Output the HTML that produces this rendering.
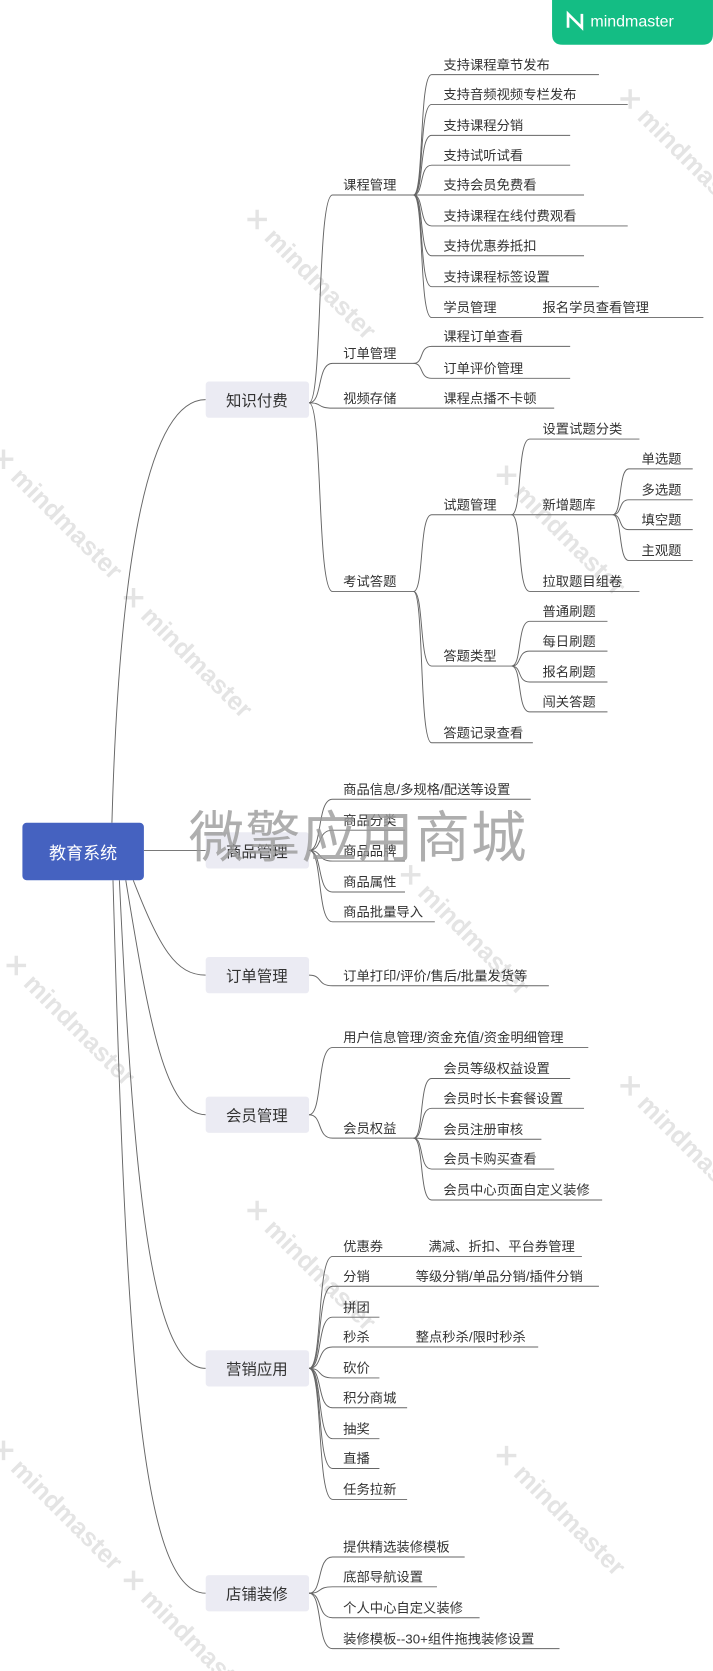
<!DOCTYPE html>
<html><head><meta charset="utf-8"><style>
html,body{margin:0;padding:0;background:#fff;}
svg{display:block;}
text{font-family:"Liberation Sans","Noto Sans CJK SC",sans-serif;font-size:12.5px;fill:#333;}
.e{fill:none;stroke:#666;stroke-width:0.9;}
.wm{fill:#e4e4e4;font-size:24px;font-weight:bold;}
</style></head><body>
<svg width="713" height="1671" viewBox="0 0 669 1568" xmlns="http://www.w3.org/2000/svg">
<!-- faint watermarks -->
<g>
<text class="wm" transform="translate(228,205) rotate(45)">✕ mindmaster</text>
<text class="wm" transform="translate(578,92) rotate(45)">✕ mindmaster</text>
<text class="wm" transform="translate(-10,430) rotate(45)">✕ mindmaster</text>
<text class="wm" transform="translate(112,560) rotate(45)">✕ mindmaster</text>
<text class="wm" transform="translate(462,445) rotate(45)">✕ mindmaster</text>
<text class="wm" transform="translate(372,820) rotate(45)">✕ mindmaster</text>
<text class="wm" transform="translate(2,905) rotate(45)">✕ mindmaster</text>
<text class="wm" transform="translate(578,1018) rotate(45)">✕ mindmaster</text>
<text class="wm" transform="translate(228,1135) rotate(45)">✕ mindmaster</text>
<text class="wm" transform="translate(462,1365) rotate(45)">✕ mindmaster</text>
<text class="wm" transform="translate(112,1482) rotate(45)">✕ mindmaster</text>
<text class="wm" transform="translate(-10,1360) rotate(45)">✕ mindmaster</text>
</g>
<!-- logo -->
<path d="M518 0 H669 V32 Q669 42 659 42 H528 Q518 42 518 32 Z" fill="#14bd84"/>
<path d="M533 26 V13 L546 26 V13" fill="none" stroke="#fff" stroke-width="2.5"/>
<text x="554" y="25" style="fill:#fff;font-size:15px">mindmaster</text>

<!-- root edges -->
<g class="e">
<path class="e" d="M105 772 C112 520 140 375 193 375"/>
<path class="e" d="M135 798 H193"/>
<path class="e" d="M125 826 C150 890 165 915 193 915"/>
<path class="e" d="M118 826 C140 960 155 1046 193 1046"/>
<path class="e" d="M112 826 C125 1100 140 1284 193 1284"/>
<path class="e" d="M106 826 C118 1250 130 1495 193 1495"/>
</g>
<!-- root -->
<rect x="21" y="772" width="114" height="54" rx="4" fill="#4562c0"/>
<text x="78" y="806" text-anchor="middle" style="fill:#fff;font-size:16px">教育系统</text>
<!-- L1 boxes -->
<g>
<rect x="193" y="358" width="97" height="34" rx="3" fill="#ebebf3"/><text x="241" y="381" text-anchor="middle" style="font-size:14.5px">知识付费</text>
<rect x="193" y="781" width="97" height="34" rx="3" fill="#ebebf3"/><text x="241" y="804" text-anchor="middle" style="font-size:14.5px">商品管理</text>
<rect x="193" y="898" width="97" height="34" rx="3" fill="#ebebf3"/><text x="241" y="921" text-anchor="middle" style="font-size:14.5px">订单管理</text>
<rect x="193" y="1029" width="97" height="34" rx="3" fill="#ebebf3"/><text x="241" y="1052" text-anchor="middle" style="font-size:14.5px">会员管理</text>
<rect x="193" y="1267" width="97" height="34" rx="3" fill="#ebebf3"/><text x="241" y="1290" text-anchor="middle" style="font-size:14.5px">营销应用</text>
<rect x="193" y="1478" width="97" height="34" rx="3" fill="#ebebf3"/><text x="241" y="1501" text-anchor="middle" style="font-size:14.5px">店铺装修</text>
</g>

<!-- edges -->
<g class="e">
<path d="M290 378 C303 378 297 183 312 183 H388"/>
<path d="M290 378 C303 378 297 341 312 341 H388"/>
<path d="M290 378 C303 378 297 383 312 383 H520"/>
<path d="M290 378 C303 378 297 555 312 555 H388"/>
<path d="M388 183 C398 183 393 70 405 70 H562"/>
<path d="M388 183 C398 183 393 98 405 98 H589"/>
<path d="M388 183 C398 183 393 127 405 127 H535"/>
<path d="M388 183 C398 183 393 155 405 155 H535"/>
<path d="M388 183 H548"/>
<path d="M388 183 C398 183 393 212 405 212 H589"/>
<path d="M388 183 C398 183 393 240 405 240 H548"/>
<path d="M388 183 C398 183 393 269 405 269 H562"/>
<path d="M388 183 C398 183 393 298 405 298 H660"/>
<path d="M388 341 C398 341 393 325 405 325 H535"/>
<path d="M388 341 C398 341 393 355 405 355 H535"/>
<path d="M388 555 C398 555 393 483 405 483 H480"/>
<path d="M388 555 C398 555 393 625 405 625 H480"/>
<path d="M388 555 C398 555 393 697 405 697 H500"/>
<path d="M480 483 C490 483 485 412 497 412 H600"/>
<path d="M480 483 H575"/>
<path d="M480 483 C490 483 485 555 497 555 H600"/>
<path d="M575 483 C584 483 580 440 590 440 H650"/>
<path d="M575 483 C584 483 580 469 590 469 H650"/>
<path d="M575 483 C584 483 580 497 590 497 H650"/>
<path d="M575 483 C584 483 580 526 590 526 H650"/>
<path d="M480 625 C490 625 485 583 497 583 H570"/>
<path d="M480 625 C490 625 485 611 497 611 H570"/>
<path d="M480 625 C490 625 485 640 497 640 H570"/>
<path d="M480 625 C490 625 485 668 497 668 H570"/>
<path d="M290 798 C303 798 297 750 312 750 H498"/>
<path d="M290 798 C303 798 297 779 312 779 H380"/>
<path d="M290 798 C303 798 297 808 312 808 H380"/>
<path d="M290 798 C303 798 297 837 312 837 H380"/>
<path d="M290 798 C303 798 297 865 312 865 H408"/>
<path d="M290 915 C303 915 297 925 312 925 H515"/>
<path d="M290 1046 C303 1046 297 983 312 983 H552"/>
<path d="M290 1046 C303 1046 297 1068 312 1068 H388"/>
<path d="M388 1068 C398 1068 393 1012 405 1012 H535"/>
<path d="M388 1068 C398 1068 393 1040 405 1040 H548"/>
<path d="M388 1068 C398 1068 393 1069 405 1069 H508"/>
<path d="M388 1068 C398 1068 393 1097 405 1097 H520"/>
<path d="M388 1068 C398 1068 393 1126 405 1126 H565"/>
<path d="M290 1284 C303 1284 297 1179 312 1179 H546"/>
<path d="M290 1284 C303 1284 297 1207 312 1207 H562"/>
<path d="M290 1284 C303 1284 297 1236 312 1236 H356"/>
<path d="M290 1284 C303 1284 297 1264 312 1264 H505"/>
<path d="M290 1284 C303 1284 297 1293 312 1293 H356"/>
<path d="M290 1284 C303 1284 297 1321 312 1321 H382"/>
<path d="M290 1284 C303 1284 297 1350 312 1350 H356"/>
<path d="M290 1284 C303 1284 297 1378 312 1378 H356"/>
<path d="M290 1284 C303 1284 297 1407 312 1407 H382"/>
<path d="M290 1495 C303 1495 297 1461 312 1461 H436"/>
<path d="M290 1495 C303 1495 297 1489 312 1489 H410"/>
<path d="M290 1495 C303 1495 297 1518 312 1518 H450"/>
<path d="M290 1495 C303 1495 297 1547 312 1547 H525"/>
</g>

<!-- texts -->
<g>
<text x="322" y="178">课程管理</text>
<text x="322" y="336">订单管理</text>
<text x="322" y="378">视频存储</text>
<text x="416" y="378">课程点播不卡顿</text>
<text x="322" y="550">考试答题</text>
<text x="416" y="65">支持课程章节发布</text>
<text x="416" y="93">支持音频视频专栏发布</text>
<text x="416" y="122">支持课程分销</text>
<text x="416" y="150">支持试听试看</text>
<text x="416" y="178">支持会员免费看</text>
<text x="416" y="207">支持课程在线付费观看</text>
<text x="416" y="235">支持优惠券抵扣</text>
<text x="416" y="264">支持课程标签设置</text>
<text x="416" y="293">学员管理</text>
<text x="509" y="293">报名学员查看管理</text>
<text x="416" y="320">课程订单查看</text>
<text x="416" y="350">订单评价管理</text>
<text x="416" y="478">试题管理</text>
<text x="416" y="620">答题类型</text>
<text x="416" y="692">答题记录查看</text>
<text x="509" y="407">设置试题分类</text>
<text x="509" y="478">新增题库</text>
<text x="509" y="550">拉取题目组卷</text>
<text x="602" y="435">单选题</text>
<text x="602" y="464">多选题</text>
<text x="602" y="492">填空题</text>
<text x="602" y="521">主观题</text>
<text x="509" y="578">普通刷题</text>
<text x="509" y="606">每日刷题</text>
<text x="509" y="635">报名刷题</text>
<text x="509" y="663">闯关答题</text>
<text x="322" y="745">商品信息/多规格/配送等设置</text>
<text x="322" y="774">商品分类</text>
<text x="322" y="803">商品品牌</text>
<text x="322" y="832">商品属性</text>
<text x="322" y="860">商品批量导入</text>
<text x="322" y="920">订单打印/评价/售后/批量发货等</text>
<text x="322" y="978">用户信息管理/资金充值/资金明细管理</text>
<text x="322" y="1063">会员权益</text>
<text x="416" y="1007">会员等级权益设置</text>
<text x="416" y="1035">会员时长卡套餐设置</text>
<text x="416" y="1064">会员注册审核</text>
<text x="416" y="1092">会员卡购买查看</text>
<text x="416" y="1121">会员中心页面自定义装修</text>
<text x="322" y="1174">优惠券</text>
<text x="402" y="1174">满减、折扣、平台券管理</text>
<text x="322" y="1202">分销</text>
<text x="390" y="1202">等级分销/单品分销/插件分销</text>
<text x="322" y="1231">拼团</text>
<text x="322" y="1259">秒杀</text>
<text x="390" y="1259">整点秒杀/限时秒杀</text>
<text x="322" y="1288">砍价</text>
<text x="322" y="1316">积分商城</text>
<text x="322" y="1345">抽奖</text>
<text x="322" y="1373">直播</text>
<text x="322" y="1402">任务拉新</text>
<text x="322" y="1456">提供精选装修模板</text>
<text x="322" y="1484">底部导航设置</text>
<text x="322" y="1513">个人中心自定义装修</text>
<text x="322" y="1542">装修模板--30+组件拖拽装修设置</text>
</g>
<!-- big watermark on top -->
<text x="177" y="804" style="fill:#9a9a9a;opacity:0.8;font-size:52px;letter-spacing:1px">微擎应用商城</text>
</svg>
</body></html>
